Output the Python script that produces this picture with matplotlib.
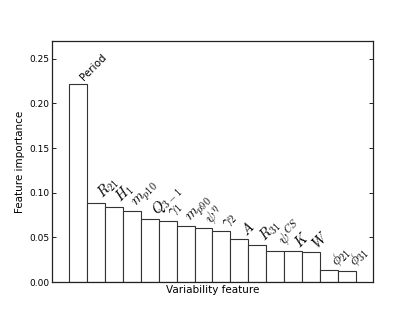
import matplotlib
matplotlib.use("Agg")
import matplotlib.pyplot as plt
import numpy as np

plt.rcParams['mathtext.fontset'] = 'cm'
plt.rcParams['font.family'] = ['DejaVu Sans']

features = ['Period', r'$R_{21}$', r'$H_1$', r'$m_{p10}$', r'$Q_{3-1}$', r'$\gamma_1$',
            r'$m_{p90}$', r'$\psi^\eta$', r'$\gamma_2$', r'$A$', r'$R_{31}$', r'$\psi^{CS}$',
            r'$K$', r'$W$', r'$\phi_{21}$', r'$\phi_{31}$']
importance = [0.2215, 0.0886, 0.0843, 0.079, 0.0703, 0.0688, 0.0624, 0.0602, 0.057,
              0.048, 0.0413, 0.0352, 0.0344, 0.0338, 0.0133, 0.0129]
yticks = [0.00, 0.05, 0.10, 0.15, 0.20, 0.25]

fig = plt.figure(figsize=(4.15, 3.12), dpi=100)
ax = fig.add_axes([0.125, 0.096, 0.774, 0.773])
x = np.arange(len(features))
ax.bar(x, importance, width=1.0, align='edge', color='white', edgecolor='#333333', linewidth=0.8)
for xi, h, lab in zip(x, importance, features):
    if lab == 'Period':
        ax.text(xi + 0.5, h + 0.002, lab, rotation=45, ha='left', va='bottom', fontsize=7.5)
    else:
        ax.text(xi + 0.4, h + 0.0005, lab, rotation=45, ha='left', va='bottom', fontsize=10.5)
ax.set_xlim(-0.95, len(features) + 0.95)
ax.set_ylim(0, 0.27)
ax.set_yticks(yticks)
ax.set_yticklabels([f'{v:.2f}' for v in yticks])
ax.set_xticks([])
ax.tick_params(axis='y', direction='in', length=3, width=0.6, labelsize=6.5, right=True, pad=2)
for s in ax.spines.values():
    s.set_linewidth(0.9)
    s.set_color('#222222')
ax.set_ylabel('Feature importance', fontsize=7.5, labelpad=3)
ax.set_xlabel('Variability feature', fontsize=7.5, labelpad=2)
fig.savefig('out.png', dpi=100)
